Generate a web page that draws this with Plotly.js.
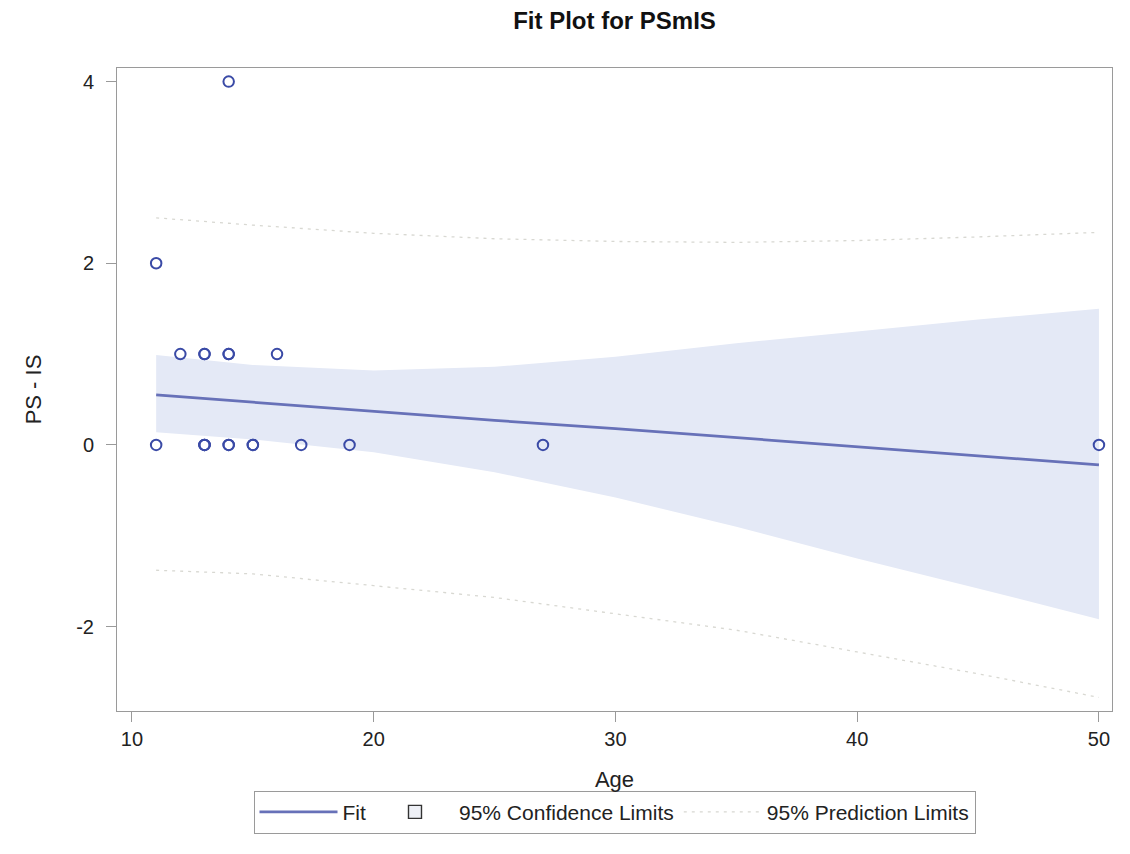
<!DOCTYPE html>
<html>
<head>
<meta charset="utf-8">
<script src="https://cdn.plot.ly/plotly-3.0.1.min.js"></script>
<style>
  html, body { margin: 0; padding: 0; background: #ffffff; }
  #chart { width: 1130px; height: 854px; }
</style>
</head>
<body>
<div id="chart"></div>
<script>
const ages = [11, 11, 12, 13, 13, 13, 13, 13, 14, 14, 14, 14, 14, 15, 15, 16, 17, 19, 27, 50];
const psMinusIs = [0, 2, 1, 1, 1, 0, 0, 0, 4, 1, 1, 0, 0, 0, 0, 1, 0, 0, 0, 0];

// Fit line and limits, read at these ages
const fitAges = [11, 15, 20, 25, 30, 35, 40, 45, 50];
const fitValues = [0.55, 0.47, 0.37, 0.27, 0.18, 0.08, -0.02, -0.12, -0.22];
const clUpper = [0.99, 0.88, 0.82, 0.86, 0.97, 1.12, 1.25, 1.38, 1.50];
const clLower = [0.14, 0.06, -0.08, -0.30, -0.58, -0.90, -1.25, -1.58, -1.92];
const plUpper = [2.50, 2.42, 2.33, 2.27, 2.24, 2.23, 2.25, 2.29, 2.34];
const plLower = [-1.38, -1.42, -1.55, -1.68, -1.86, -2.04, -2.28, -2.52, -2.78];

// Tick labels
const xTicks = [10, 20, 30, 40, 50];
const yTicks = [-2, 0, 2, 4];

const FONT = "Liberation Sans, Arial, sans-serif";
const bandColor = "#e4e9f6";
const fitColor = "#6771b8";
const pointColor = "#3a4aa6";
const plColor = "#d8d8d2";

const traces = [
  { // CI lower (hidden from legend)
    x: fitAges, y: clLower, type: "scatter", mode: "lines",
    line: { width: 0, color: bandColor }, showlegend: false, hoverinfo: "skip"
  },
  { // CI upper, filled to lower
    x: fitAges, y: clUpper, type: "scatter", mode: "lines",
    fill: "tonexty", fillcolor: bandColor,
    line: { width: 0, color: bandColor }, showlegend: false, hoverinfo: "skip"
  },
  { // legend entry for confidence limits
    x: [null], y: [null], type: "scatter", mode: "markers",
    name: "95% Confidence Limits", legendrank: 2,
    marker: { symbol: "square", size: 13, color: "#eef0f6", line: { color: "#333333", width: 1.4 } }
  },
  {
    x: fitAges, y: plUpper, type: "scatter", mode: "lines",
    name: "95% Prediction Limits", legendrank: 3, legendgroup: "pl",
    line: { color: plColor, width: 1.3, dash: "3px,5px" }
  },
  {
    x: fitAges, y: plLower, type: "scatter", mode: "lines",
    name: "95% Prediction Limits", legendgroup: "pl", showlegend: false,
    line: { color: plColor, width: 1.3, dash: "3px,5px" }
  },
  {
    x: fitAges, y: fitValues, type: "scatter", mode: "lines",
    name: "Fit", legendrank: 1,
    line: { color: fitColor, width: 2.8 }
  },
  {
    x: ages, y: psMinusIs, type: "scatter", mode: "markers",
    name: "PSmIS", showlegend: false,
    marker: { symbol: "circle-open", size: 10.5, color: pointColor, line: { width: 2, color: pointColor } }
  }
];

const layout = {
  width: 1130, height: 854,
  paper_bgcolor: "#ffffff", plot_bgcolor: "#ffffff",
  margin: { l: 117, r: 18, t: 68, b: 143 },
  font: { family: FONT, size: 20, color: "#222222" },
  title: {
    text: "Fit Plot for PSmIS",
    font: { family: FONT, size: 24, weight: "bold", color: "#111111" },
    x: 0.5, xref: "paper", xanchor: "center",
    y: 0.976, yref: "container", yanchor: "middle"
  },
  xaxis: {
    range: [9.38, 50.54], tickvals: xTicks, ticktext: xTicks.map(String),
    showgrid: false, zeroline: false,
    showline: true, mirror: true, linecolor: "#9a9a9a", linewidth: 1,
    ticks: "outside", ticklen: 10, tickcolor: "#9a9a9a",
    tickfont: { family: FONT, size: 20, color: "#222222" },
    title: { text: "Age", font: { family: FONT, size: 22, color: "#222222" }, standoff: 22 }
  },
  yaxis: {
    range: [-2.93, 4.15], tickvals: yTicks, ticktext: yTicks.map(String),
    showgrid: false, zeroline: false,
    showline: true, mirror: true, linecolor: "#9a9a9a", linewidth: 1,
    ticks: "outside", ticklen: 10, tickcolor: "#9a9a9a", ticklabelstandoff: 8,
    tickfont: { family: FONT, size: 20, color: "#222222" },
    title: { text: "PS - IS", font: { family: FONT, size: 22, color: "#222222" }, standoff: 28 }
  },
  legend: {
    orientation: "h", x: 0.5, xanchor: "center", y: -0.124, yanchor: "top",
    bordercolor: "#9a9a9a", borderwidth: 1, bgcolor: "#ffffff",
    font: { family: FONT, size: 21, color: "#222222" },
    itemwidth: 78, traceorder: "normal"
  },
  showlegend: true
};

Plotly.newPlot("chart", traces, layout, { staticPlot: true, displayModeBar: false });
</script>
</body>
</html>
